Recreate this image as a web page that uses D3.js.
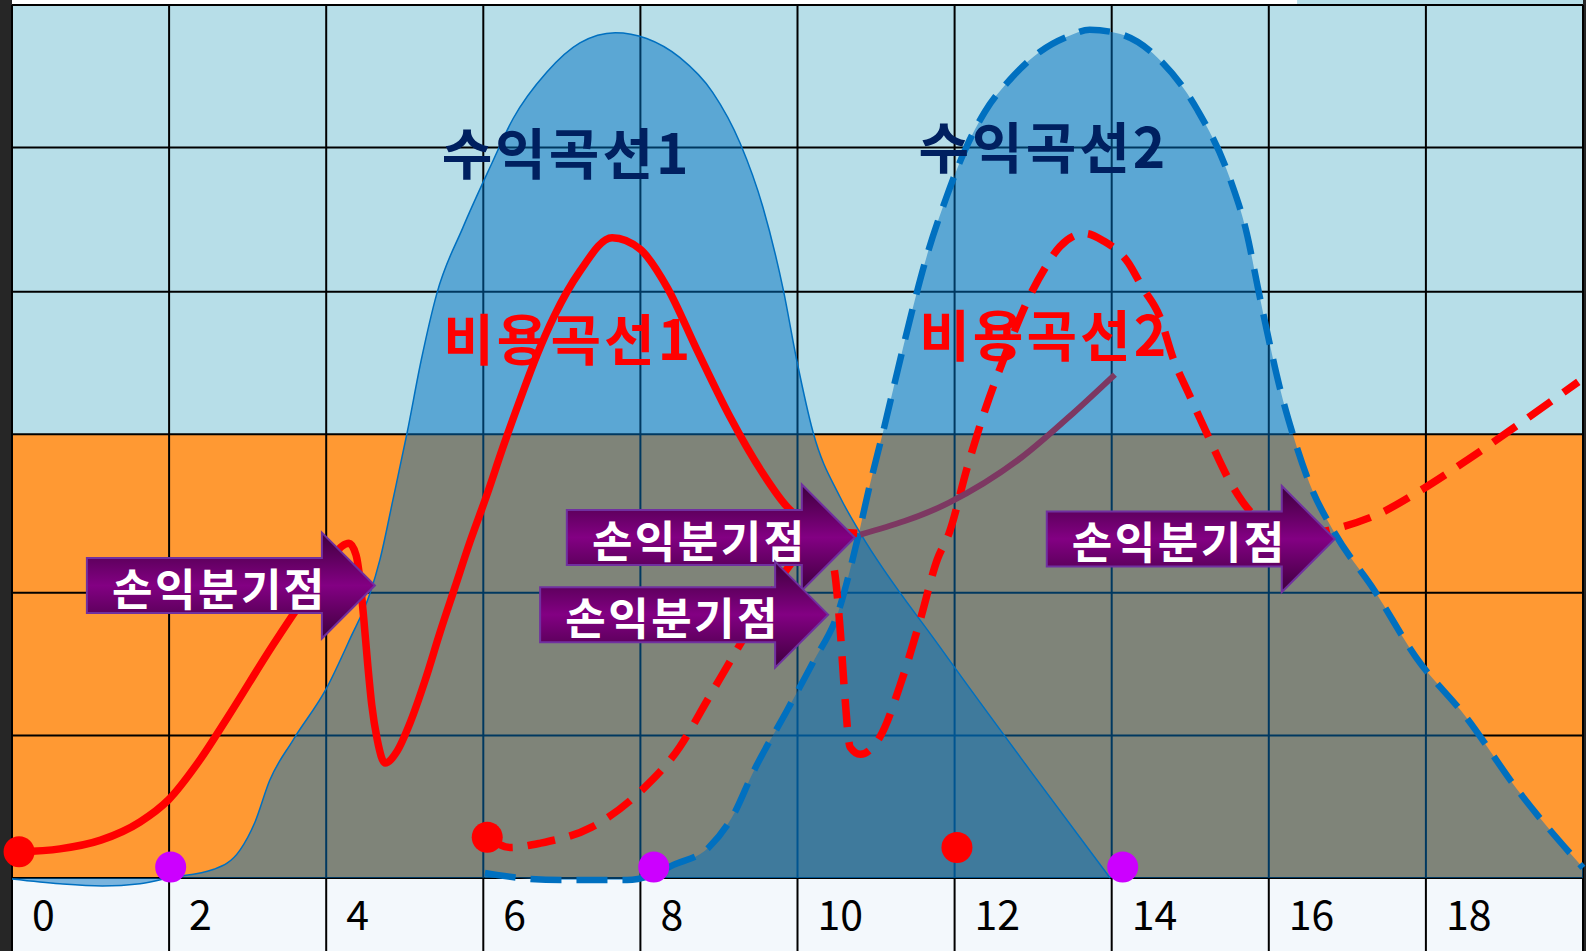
<!DOCTYPE html>
<html><head><meta charset="utf-8">
<script src="https://cdn.jsdelivr.net/npm/d3@7"></script>
<style>html,body{margin:0;padding:0;background:#fff;overflow:hidden}</style>
</head><body>
<svg id="chart" width="1586" height="951"></svg>
<script>
// ---------- data ----------
const xTickLabels = [0, 2, 4, 6, 8, 10, 12, 14, 16, 18];
const xGridLines = [0, 2, 4, 6, 8, 10, 12, 14, 16, 18, 20];
const yGridLines = [0, 0.98, 1.96, 3.05, 4.03, 5.02, 6];
const bandSplit = 3.05;

const revenue1 = [
  [0,-0.007],[0.61,-0.04],[1.15,-0.055],[1.63,-0.04],[1.99,0],[2.57,0.06],[2.90,0.19],
  [3.09,0.38],[3.28,0.67],[3.58,0.95],[4.01,1.31],[4.30,1.64],[4.56,1.96],[4.685,2.19],
  [4.85,2.60],[5.03,3.06],[5.21,3.56],[5.41,4.02],[5.74,4.47],[6.09,4.89],[6.38,5.22],
  [6.81,5.54],[7.23,5.74],[7.68,5.81],[8.08,5.77],[8.50,5.64],[8.92,5.40],[9.27,5.05],
  [9.56,4.61],[9.82,4.04],[9.99,3.56],[10.20,3.06],[10.54,2.62],[10.80,2.37],
  [11.81,1.59],[12.96,0.74],[13.98,0]
];
const revenue2 = [
  [6.02,0.034],[6.47,0],[6.99,-0.014],[7.83,-0.014],[8.12,0.014],[8.42,0.09],[8.87,0.21],
  [9.20,0.45],[9.42,0.71],[9.87,1.155],[10.20,1.485],[10.52,1.83],[10.76,2.32],[10.92,2.70],
  [11.10,3.09],[11.28,3.50],[11.46,3.90],[11.66,4.30],[11.89,4.67],[12.13,5.00],[12.39,5.27],
  [12.71,5.49],[13.09,5.68],[13.47,5.79],[13.72,5.83],[14.11,5.80],[14.58,5.64],[15.09,5.28],
  [15.51,4.80],[15.72,4.43],[15.86,4.06],[15.98,3.75],[16.14,3.37],[16.30,3.06],[16.52,2.71],
  [16.84,2.37],[17.34,1.98],[17.87,1.52],[18.52,1.10],[19.16,0.61],[20.0,0.07]
];
const cost1 = [
  [0.09,0.18],[0.61,0.20],[1.13,0.26],[1.63,0.385],[1.99,0.536],[2.39,0.81],[2.74,1.10],
  [3.32,1.60],[3.83,2.01],[4.05,2.18],[4.20,2.28],[4.29,2.30],[4.38,2.22],[4.43,2.05],
  [4.48,1.77],[4.53,1.46],[4.58,1.19],[4.65,0.95],[4.75,0.79],[4.90,0.87],[5.07,1.07],
  [5.26,1.36],[5.45,1.69],[5.64,2.00],[5.83,2.31],[6.05,2.64],[6.25,2.96],[6.47,3.29],
  [6.68,3.59],[6.91,3.87],[7.23,4.17],[7.64,4.40],[8.00,4.32],[8.34,4.06],[8.72,3.63],
  [9.14,3.17],[9.56,2.78],[9.87,2.55],[10.29,2.40],[10.76,2.37]
];
const cost2 = [
  [6.05,0.28],[6.34,0.21],[6.73,0.24],[7.38,0.35],[7.97,0.58],[8.50,0.90],[8.85,1.22],
  [9.23,1.57],[9.61,1.91],[9.99,2.21],[10.20,2.32],[10.45,2.16],[10.54,1.73],[10.60,1.27],
  [10.67,0.90],[10.80,0.85],[11.05,0.97],[11.34,1.38],[11.56,1.77],[11.78,2.19],[11.93,2.37],
  [12.16,2.82],[12.39,3.22],[12.62,3.56],[12.93,3.97],[13.16,4.20],[13.34,4.34],[13.66,4.43],
  [13.89,4.38],[14.21,4.23],[14.39,4.06],[14.61,3.86],[14.79,3.56],[14.98,3.33],[15.25,3.01],
  [15.52,2.71],[15.84,2.48],[16.40,2.36],[16.91,2.41],[17.43,2.51],[17.89,2.65],[18.52,2.87],
  [19.16,3.11],[19.94,3.41]
];
const profitLink = [[10.80,2.36],[11.93,2.58],[12.85,2.89],[13.52,3.20],[14.04,3.46]];
const startDots = [[0.09,0.18],[6.05,0.28],[12.03,0.21]];
const endDots = [[2.02,0.076],[8.17,0.076],[14.14,0.076]];
const breakEvenTips = [[4.62,2.01],[10.73,2.34],[10.39,1.81],[16.84,2.33]];
const breakEvenText = "손익분기점";
const curveLabels = [
  {text:"수익곡선1", x:5.47, y:4.84, kind:"rev"},
  {text:"수익곡선2", x:11.54, y:4.88, kind:"rev"},
  {text:"비용곡선1", x:5.49, y:3.56, kind:"cost"},
  {text:"비용곡선2", x:11.55, y:3.59, kind:"cost"}
];

// ---------- drawing ----------
const W = 1586, H = 951;
const svg = d3.select("#chart");
const x = d3.scaleLinear([0, 20], [12, 1583]);
const y = d3.scaleLinear([0, 6], [878, 5]);

const C = {
  sky: "#b7dee8", orange: "#ff9933", floor: "#f3f8fc", grid: "#000",
  revFill: "#0070c0", revLine: "#0070c0", red: "#ff0000", purpleLine: "#7d3862",
  dotPurple: "#cc00ff", navy: "#002060"
};
const FONT = "'Noto Sans CJK KR','Noto Sans',sans-serif";

// frame edges
svg.append("rect").attr("x", 0).attr("y", 0).attr("width", x(0)).attr("height", H).attr("fill", "#262626");
svg.append("rect").attr("x", x(20)).attr("y", 0).attr("width", W - x(20)).attr("height", H).attr("fill", "#262626");

// backgrounds
svg.append("rect").attr("x", x(16.36)).attr("y", 0).attr("width", x(20) - x(16.36)).attr("height", y(6)).attr("fill", C.sky);
svg.append("rect").attr("x", x(0)).attr("y", y(6)).attr("width", x(20) - x(0)).attr("height", y(bandSplit) - y(6)).attr("fill", C.sky);
svg.append("rect").attr("x", x(0)).attr("y", y(bandSplit)).attr("width", x(20) - x(0)).attr("height", y(0) - y(bandSplit)).attr("fill", C.orange);
svg.append("rect").attr("x", x(0)).attr("y", y(0)).attr("width", x(20) - x(0)).attr("height", H - y(0)).attr("fill", C.floor);

// grid
const g = svg.append("g");
g.selectAll("line.v").data(xGridLines).join("line")
  .attr("x1", d => x(d)).attr("x2", d => x(d)).attr("y1", y(6)).attr("y2", H)
  .attr("stroke", C.grid).attr("stroke-width", 2);
g.selectAll("line.h").data(yGridLines).join("line")
  .attr("x1", x(0)).attr("x2", x(20)).attr("y1", d => y(d)).attr("y2", d => y(d))
  .attr("stroke", C.grid).attr("stroke-width", 2);

// revenue areas
const cv = d3.curveMonotoneX;
const area = d3.area().x(d => x(d[0])).y0(y(0)).y1(d => y(d[1])).curve(cv);
const line = d3.line().x(d => x(d[0])).y(d => y(d[1])).curve(cv);

svg.append("path").attr("d", area(revenue1)).attr("fill", C.revFill).attr("fill-opacity", 0.5);
svg.append("path").attr("d", line(revenue1)).attr("fill", "none").attr("stroke", C.revLine).attr("stroke-width", 1.5);
svg.append("path").attr("d", area(revenue2)).attr("fill", C.revFill).attr("fill-opacity", 0.5);
svg.append("path").attr("d", line(revenue2)).attr("fill", "none").attr("stroke", C.revLine)
  .attr("stroke-width", 6.5).attr("stroke-dasharray", "31 15");

// cost curves
svg.append("path").attr("d", line(cost2)).attr("fill", "none").attr("stroke", C.red)
  .attr("stroke-width", 7.5).attr("stroke-dasharray", "28 15");
svg.append("path").attr("d", line(cost1)).attr("fill", "none").attr("stroke", C.red).attr("stroke-width", 7.5);
svg.append("path").attr("d", line(profitLink)).attr("fill", "none").attr("stroke", C.purpleLine)
  .attr("stroke-width", 6);

// dots
svg.selectAll("circle.s").data(startDots).join("circle")
  .attr("cx", d => x(d[0])).attr("cy", d => y(d[1])).attr("r", 15.5).attr("fill", C.red);
svg.selectAll("circle.e").data(endDots).join("circle")
  .attr("cx", d => x(d[0])).attr("cy", d => y(d[1])).attr("r", 15.5).attr("fill", C.dotPurple);

// arrows
const defs = svg.append("defs");
const grad = defs.append("linearGradient").attr("id", "arrowGrad").attr("x1", 0).attr("y1", 0).attr("x2", 0).attr("y2", 1);
grad.append("stop").attr("offset", "0%").attr("stop-color", "#3e003d");
grad.append("stop").attr("offset", "50%").attr("stop-color", "#830083");
grad.append("stop").attr("offset", "100%").attr("stop-color", "#3e003d");

const bodyLen = 235, headLen = 53, bodyHalf = 27.5, headHalf = 53;
breakEvenTips.forEach(t => {
  const tx = x(t[0]), ty = y(t[1]);
  const hb = tx - headLen, bl = hb - bodyLen;
  const pts = [[bl, ty - bodyHalf], [hb, ty - bodyHalf], [hb, ty - headHalf], [tx, ty],
               [hb, ty + headHalf], [hb, ty + bodyHalf], [bl, ty + bodyHalf]];
  svg.append("path").attr("d", "M" + pts.map(p => p.join(",")).join("L") + "Z")
    .attr("fill", "url(#arrowGrad)").attr("stroke", "#7030a0").attr("stroke-width", 2);
  svg.append("text").attr("x", tx - 157 + 1.5).attr("y", ty + 1).attr("text-anchor", "middle")
    .attr("dominant-baseline", "central").attr("fill", "#fff")
    .attr("font-family", FONT).attr("font-weight", "bold").attr("font-size", 44)
    .attr("letter-spacing", 2.5)
    .text(breakEvenText);
});

// curve labels
svg.selectAll("text.lbl").data(curveLabels).join("text")
  .attr("x", d => x(d.x)).attr("y", d => y(d.y))
  .attr("fill", d => d.kind === "rev" ? C.navy : C.red)
  .attr("font-family", FONT).attr("font-weight", "bold").attr("font-size", 55)
  .attr("letter-spacing", 3)
  .text(d => d.text);

// x tick labels
svg.selectAll("text.tick").data(xTickLabels).join("text")
  .attr("x", d => x(d) + 20).attr("y", 930)
  .attr("font-family", FONT).attr("font-size", 41).attr("fill", "#000")
  .text(d => d);
</script>
</body></html>
